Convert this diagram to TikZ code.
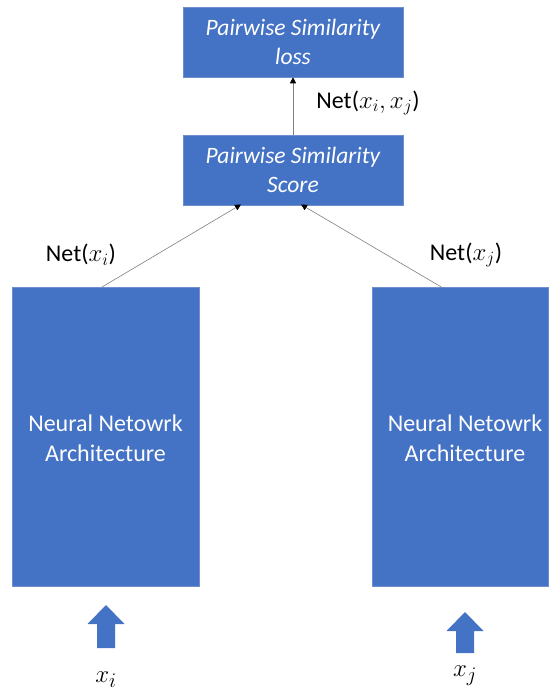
\documentclass[tikz,border=0pt]{standalone}
\usepackage{fontspec}
\setmainfont{Carlito}
\usetikzlibrary{arrows.meta}
\definecolor{boxblue}{HTML}{4472C4}
\definecolor{boxedge}{HTML}{6F8FCF}
\definecolor{linkgray}{HTML}{7F7F7F}
\begin{document}
\begin{tikzpicture}[x=1pt,y=-1pt,
  bluebox/.style={draw=boxedge,line width=0.6pt,fill=boxblue,text=white,align=center,inner sep=0pt},
  topbox/.style={bluebox,minimum width=220pt,minimum height=70pt,font=\fontsize{23.5}{29}\selectfont\itshape},
  netbox/.style={bluebox,minimum width=187pt,minimum height=299pt},
  nettext/.style={font=\fontsize{24}{30}\selectfont,text=white,align=center,inner sep=0pt},
  link/.style={draw=linkgray,line width=0.6pt,-{Triangle[length=6pt,width=6pt,fill=black,color=black]}},
  inarrow/.style={fill=boxblue,draw=none},
  lbl/.style={font=\fontsize{24}{28}\selectfont,text=black,inner sep=0pt},
  invar/.style={font=\fontsize{28}{32}\selectfont,text=black,inner sep=0pt}
]
\useasboundingbox (0,0) rectangle (548,695);

% upper stage
\node[topbox] (loss) at (293,42) {Pairwise Similarity\\loss};
\node[topbox] (score) at (293,170) {Pairwise Similarity\\Score};

% two branches
\node[netbox] (netL) at (105.5,436.5) {};
\node[nettext] (netLtext) at (105.5,438) {Neural Netowrk\\Architecture};
\node[netbox,minimum width=176pt] (netR) at (460,437) {};
\node[nettext] (netRtext) at (465,438) {Neural Netowrk\\Architecture};

% connectors
\coordinate (lfoot) at (102,287);
\coordinate (rfoot) at (443,288);
\coordinate (lhead) at (241,204.5);
\coordinate (rhead) at (301,204.5);
\draw[link] (lfoot) -- (lhead);
\draw[link] (rfoot) -- (rhead);
\draw[link] (score.north) -- (loss.south);

% labels
\node[lbl] (labij) at (368,103) {Net($x_i,x_j$)};
\node[lbl] (labi) at (81,255) {Net($x_i$)};
\node[lbl] (labj) at (466,255) {Net($x_j$)};

% input block arrows
\coordinate (inL) at (106,605);
\coordinate (inR) at (465,612);
\fill[inarrow] (inL) -- ++(18.5,19) -- ++(-9.5,0) -- ++(0,24) -- ++(-18,0) -- ++(0,-24) -- ++(-9.5,0) -- cycle;
\fill[inarrow] (inR) -- ++(18.5,19) -- ++(-9.5,0) -- ++(0,22) -- ++(-18,0) -- ++(0,-22) -- ++(-9.5,0) -- cycle;
\node[invar] (xi) at (106,680) {$x_i$};
\node[invar] (xj) at (465,676) {$x_j$};
\end{tikzpicture}
\end{document}
